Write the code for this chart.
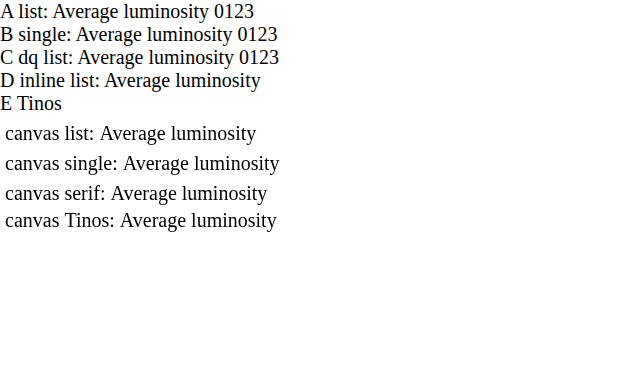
<!DOCTYPE html>
<html><head><meta charset="utf-8">
<script src="https://cdn.jsdelivr.net/npm/chart.js@4.4.1/dist/chart.umd.min.js"></script>
<style>
 .a { font-family: 'Liberation Serif', Tinos, serif; }
 .b { font-family: 'Liberation Serif'; }
 .c { font-family: "Liberation Serif", "Times New Roman", serif; }
 body { margin:0; font-size:20px; }
</style></head>
<body>
<div class="a">A list: Average luminosity 0123</div>
<div class="b">B single: Average luminosity 0123</div>
<div class="c">C dq list: Average luminosity 0123</div>
<div style="font-family:'Liberation Serif', Tinos, serif">D inline list: Average luminosity</div>
<div style="font-family:Tinos">E Tinos</div>
<canvas id="c" width="600" height="120"></canvas>
<script>
const ctx = document.getElementById('c').getContext('2d');
ctx.font = "20px 'Liberation Serif', Tinos, serif"; ctx.fillText('canvas list: Average luminosity', 5, 25);
ctx.font = "20px 'Liberation Serif'"; ctx.fillText('canvas single: Average luminosity', 5, 55);
ctx.font = "20px serif"; ctx.fillText('canvas serif: Average luminosity', 5, 85);
ctx.font = "20px Tinos"; ctx.fillText('canvas Tinos: Average luminosity', 5, 112);
</script>
</body></html>
